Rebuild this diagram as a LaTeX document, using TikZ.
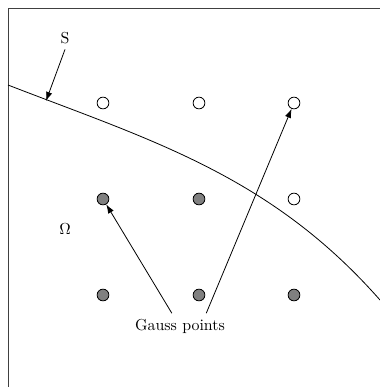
\documentclass[tikz,border=0pt]{standalone}
\usepackage{tikz}
\usetikzlibrary{arrows.meta}

\begin{document}
\begin{tikzpicture}[
    x=0.0221cm, y=-0.0221cm, >={Latex[length=2mm, width=1.4mm]},
    frame/.style={draw=black!75, line width=0.6pt},
    opengp/.style={circle, draw=black, fill=white, line width=0.5pt,
      minimum size=0.26cm, inner sep=0pt},
    fullgp/.style={opengp, fill=black!50},
    ar/.style={->, draw=black, line width=0.5pt}]
  \useasboundingbox (0,0) rectangle (380,387);
  \draw[frame] (8,387) -- (8,8) -- (380,8);
  % boundary curve S
  \draw[line width=0.5pt] (8,85) .. controls (150,140) and (270,175) .. (380,300);
  \coordinate (sfoot) at (46,101);
  % Gauss points
  \node[opengp] (g11) at (103,103) {};
  \node[opengp] (g12) at (199,103) {};
  \node[opengp] (g13) at (294,103) {};
  \node[fullgp] (g21) at (103,199) {};
  \node[fullgp] (g22) at (199,199) {};
  \node[opengp] (g23) at (294,199) {};
  \node[fullgp] (g31) at (103,295) {};
  \node[fullgp] (g32) at (199,295) {};
  \node[fullgp] (g33) at (294,295) {};
  % labels
  \node (slbl) at (65,38) {S};
  \node (omega) at (65,229) {$\Omega$};
  \node (gplbl) at (180,326) {Gauss points};
  \draw[ar] (slbl.south) -- (sfoot);
  \draw[ar] ([xshift=-0.18cm]gplbl.north) -- (g21);
  \draw[ar] ([xshift=0.58cm]gplbl.north) -- (g13);
\end{tikzpicture}
\end{document}
